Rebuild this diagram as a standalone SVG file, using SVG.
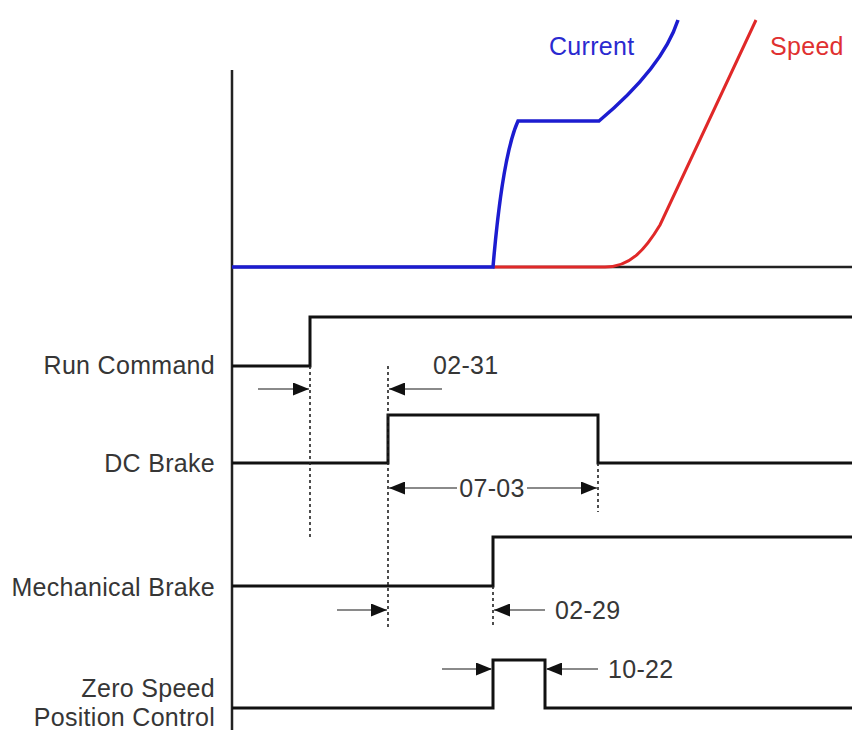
<svg xmlns="http://www.w3.org/2000/svg" width="852" height="730" viewBox="0 0 852 730">
  <style>
    .lbl { font-family: "Liberation Sans", Arial, sans-serif; font-size: 25px; letter-spacing: 0.3px; fill: #363636; }
    .sig { fill: none; stroke: #111; stroke-width: 3; stroke-linejoin: miter; }
    .axis { fill: none; stroke: #222; stroke-width: 2.5; }
    .dash { fill: none; stroke: #222; stroke-width: 1.6; stroke-dasharray: 3 3; }
    .dim { fill: none; stroke: #8a8a8a; stroke-width: 1.8; marker-end: url(#ah); }
  </style>
  <defs>
    <marker id="ah" viewBox="0 0 16 13" refX="16" refY="6.5" markerWidth="16" markerHeight="13" markerUnits="userSpaceOnUse" orient="auto">
      <path d="M0,0 L16,6.5 L0,13 z" fill="#111"/>
    </marker>
  </defs>
  <rect width="852" height="730" fill="#fff"/>

  <g id="axes">
    <path class="axis" d="M232,70 V730"/>
    <path class="axis" d="M232,267 H852" stroke="#555"/>
  </g>

  <g id="speed-curve">
    <path d="M493,267 H605 C630,267 645,250 660,225 L756,20" fill="none" stroke="#e02828" stroke-width="3"/>
    <text class="lbl" x="770" y="55" style="fill:#e03030">Speed</text>
  </g>
  <g id="current-curve">
    <path d="M232,267 H493 C497,220 505,150 518,121 H599 C630,95 665,60 678,20" fill="none" stroke="#1c1cd0" stroke-width="3.5"/>
    <text class="lbl" x="549" y="55" style="fill:#2a2ad0">Current</text>
  </g>

  <g id="run-command">
    <path class="sig" d="M232,366 H310 V317 H852"/>
    <text class="lbl" x="215" y="374" text-anchor="end">Run Command</text>
  </g>
  <g id="dc-brake">
    <path class="sig" d="M232,463 H388 V415 H598 V463 H852"/>
    <text class="lbl" x="215" y="472" text-anchor="end">DC Brake</text>
  </g>
  <g id="mechanical-brake">
    <path class="sig" d="M232,586 H493 V537 H852"/>
    <text class="lbl" x="215" y="596" text-anchor="end">Mechanical Brake</text>
  </g>
  <g id="zero-speed">
    <path class="sig" d="M232,708 H493 V660 H545 V708 H852"/>
    <text class="lbl" x="215" y="697" text-anchor="end">Zero Speed</text>
    <text class="lbl" x="215" y="726" text-anchor="end">Position Control</text>
  </g>

  <g id="connectors">
    <path class="dash" d="M310,366 V538"/>
    <path class="dash" d="M388,366 V627"/>
    <path class="dash" d="M598,463 V512"/>
    <path class="dash" d="M493,586 V625"/>
    <path class="dim" d="M258,389 H309"/>
    <path class="dim" d="M442,389 H389"/>
    <path class="dim" d="M457,488 H389"/>
    <path class="dim" d="M527,488 H597"/>
    <path class="dim" d="M337,610 H387"/>
    <path class="dim" d="M545,610 H494"/>
    <path class="dim" d="M442,669 H492"/>
    <path class="dim" d="M598,669 H546"/>
  </g>

  <g id="param-labels">
    <text class="lbl" x="433" y="374">02-31</text>
    <text class="lbl" x="492" y="497" text-anchor="middle">07-03</text>
    <text class="lbl" x="555" y="619">02-29</text>
    <text class="lbl" x="608" y="678">10-22</text>
  </g>
</svg>
